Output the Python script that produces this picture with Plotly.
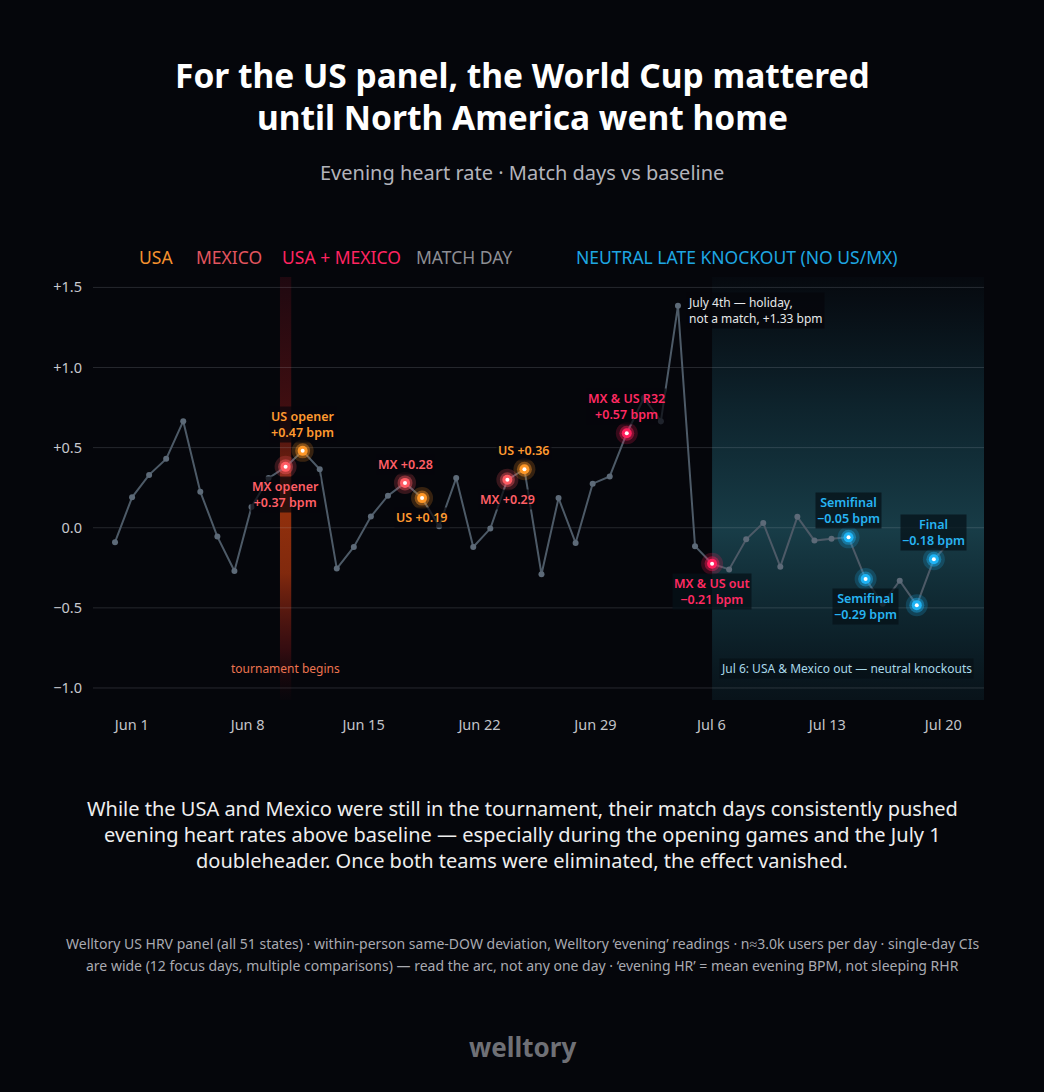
import plotly.graph_objects as go
import pandas as pd

# ---------------- data ----------------
dates = pd.date_range("2026-06-01", "2026-07-20", freq="D")
values = [-0.09, 0.19, 0.33, 0.43, 0.665, 0.225, -0.055, -0.27, 0.13, 0.31,
          0.38, 0.48, 0.365, -0.255, -0.12, 0.07, 0.20, 0.28, 0.185, 0.01,
          0.31, -0.12, -0.005, 0.30, 0.365, -0.29, 0.185, -0.095, 0.275, 0.32,
          0.59, 0.81, 0.665, 1.385, -0.115, -0.225, -0.26, -0.072, 0.03, -0.243,
          0.068, -0.08, -0.068, -0.06, -0.32, -0.475, -0.33, -0.483, -0.197, -0.082]

us_days = ["2026-06-12", "2026-06-19", "2026-06-25"]
mx_days = ["2026-06-11", "2026-06-18", "2026-06-24"]
both_days = ["2026-07-01", "2026-07-06"]
neutral_days = ["2026-07-14", "2026-07-15", "2026-07-18", "2026-07-19"]

tournament_start = "2026-06-11"
exit_day = "2026-07-06"
holiday = "2026-07-04"

x_tick_labels = ["Jun 1", "Jun 8", "Jun 15", "Jun 22", "Jun 29", "Jul 6", "Jul 13", "Jul 20"]
y_tick_vals = [-1.0, -0.5, 0.0, 0.5, 1.0, 1.5]
y_tick_text = ["\u22121.0", "\u22120.5", "0.0", "+0.5", "+1.0", "+1.5"]

# event labels: (date, text, kind, above?)
event_labels = [
    ("2026-06-12", "US opener<br>+0.47 bpm", "us", True),
    ("2026-06-11", "MX opener<br>+0.37 bpm", "mx", False),
    ("2026-06-18", "MX +0.28", "mx", True),
    ("2026-06-19", "US +0.19", "us", False),
    ("2026-06-25", "US +0.36", "us", True),
    ("2026-06-24", "MX +0.29", "mx", False),
    ("2026-07-01", "MX &amp; US R32<br>+0.57 bpm", "both", True),
    ("2026-07-06", "MX &amp; US out<br>\u22120.21 bpm", "both", False),
    ("2026-07-14", "Semifinal<br>\u22120.05 bpm", "neutral", True),
    ("2026-07-15", "Semifinal<br>\u22120.29 bpm", "neutral", False),
    ("2026-07-19", "Final<br>\u22120.18 bpm", "neutral", True),
]

# ---------------- styling ----------------
BG = "#05060b"
FONT = "Noto Sans"
COL = {"us": "#ff9828", "mx": "#ff5b63", "both": "#ff1f5c", "neutral": "#1fb4f5"}
LABEL_COL = {"us": "#ff9a30", "mx": "#ff5f66", "both": "#ff2a62", "neutral": "#27b4f2"}

W, H = 1044, 1092
ML, MR, MT, MB = 93, 60, 277, 392
d0 = pd.Timestamp("2026-06-01")
day = pd.Timedelta(days=1)
x_range = [d0 - 1.29 * day, d0 + 50.94 * day]
y_range = [-1.075, 1.565]
# tick positions as placed in the reference
x_tick_vals = [d0 + (0.98 + 6.796 * k) * day for k in range(len(x_tick_labels))]

val = dict(zip(dates.strftime("%Y-%m-%d"), values))

fig = go.Figure()

# tournament-begins band
ts = pd.Timestamp(tournament_start)
fig.add_trace(go.Scatter(
    x=[ts - 0.33 * day, ts + 0.33 * day, ts + 0.33 * day, ts - 0.33 * day, ts - 0.33 * day],
    y=[y_range[1], y_range[1], y_range[0], y_range[0], y_range[1]],
    mode="lines", line=dict(width=0), fill="toself",
    fillgradient=dict(type="vertical", start=y_range[1], stop=y_range[0],
                      colorscale=[[0, "rgba(110,16,30,0.25)"], [0.3, "rgba(120,22,22,0.5)"],
                                  [0.55, "rgba(170,55,12,0.85)"], [0.7, "rgba(160,50,14,0.8)"],
                                  [0.88, "rgba(110,20,22,0.45)"], [1, "rgba(60,10,16,0.05)"]]),
    hoverinfo="skip", showlegend=False))

# neutral knockout region
ed = pd.Timestamp(exit_day)
fig.add_trace(go.Scatter(
    x=[ed, x_range[1], x_range[1], ed, ed],
    y=[y_range[1], y_range[1], y_range[0], y_range[0], y_range[1]],
    mode="lines", line=dict(width=0), fill="toself",
    fillgradient=dict(type="vertical", start=y_range[1], stop=y_range[0],
                      colorscale=[[0, "rgba(20,60,75,0.06)"], [0.3, "rgba(24,70,84,0.45)"],
                                  [0.6, "rgba(28,72,84,0.82)"], [0.85, "rgba(20,60,72,0.5)"],
                                  [1, "rgba(16,48,60,0.3)"]]),
    hoverinfo="skip", showlegend=False))

# gridlines (drawn above the shaded regions)
gx, gy = [], []
for v in y_tick_vals:
    gx += [x_range[0], x_range[1], None]
    gy += [v, v, None]
fig.add_trace(go.Scatter(x=gx, y=gy, mode="lines",
                         line=dict(color="rgba(200,210,220,0.17)", width=1),
                         hoverinfo="skip", showlegend=False))

# main series
fig.add_trace(go.Scatter(x=dates, y=values, mode="lines+markers",
                         line=dict(color="#4d5a67", width=2),
                         marker=dict(size=6, color="#5d6a78"),
                         hoverinfo="skip", showlegend=False))

# highlighted days
for kind, days in [("us", us_days), ("mx", mx_days), ("both", both_days), ("neutral", neutral_days)]:
    xs = pd.to_datetime(days)
    ys = [val[d] for d in days]
    c = COL[kind]
    fig.add_trace(go.Scatter(x=xs, y=ys, mode="markers",
                             marker=dict(size=22, color=c, opacity=0.2),
                             hoverinfo="skip", showlegend=False))
    fig.add_trace(go.Scatter(x=xs, y=ys, mode="markers",
                             marker=dict(size=15, color=c, opacity=0.4),
                             hoverinfo="skip", showlegend=False))
    fig.add_trace(go.Scatter(x=xs, y=ys, mode="markers",
                             marker=dict(size=10, color=c),
                             hoverinfo="skip", showlegend=False))
    fig.add_trace(go.Scatter(x=xs, y=ys, mode="markers",
                             marker=dict(size=4, color="white"),
                             hoverinfo="skip", showlegend=False))

ann = []

for d, text, kind, above in event_labels:
    in_teal = pd.Timestamp(d) >= ed
    ann.append(dict(x=pd.Timestamp(d), y=val[d], xref="x", yref="y", text=text,
                    showarrow=False, align="center",
                    yanchor="bottom" if above else "top", yshift=8 if above else -9,
                    font=dict(family=FONT, size=12.5, color=LABEL_COL[kind], weight=600),
                    bgcolor="rgba(6,18,24,0.75)" if in_teal else "rgba(5,6,11,0.7)",
                    borderpad=1))

ann.append(dict(x=pd.Timestamp(holiday), y=val[holiday], xref="x", yref="y",
                text="July 4th \u2014 holiday,<br>not a match, +1.33 bpm", showarrow=False,
                align="left", xanchor="left", yanchor="top", xshift=8, yshift=14,
                font=dict(family=FONT, size=12, color="#e6e8ea"),
                bgcolor="rgba(5,6,11,0.75)", borderpad=1))

ann.append(dict(x=ts, y=-0.88, xref="x", yref="y", text="tournament begins",
                showarrow=False, font=dict(family=FONT, size=12, color="#ec7450")))
ann.append(dict(x=x_range[1], y=-0.88, xref="x", yref="y", xanchor="right", xshift=-10,
                text="Jul 6: USA &amp; Mexico out \u2014 neutral knockouts",
                showarrow=False, font=dict(family=FONT, size=12, color="#a9d9ea"),
                bgcolor="rgba(6,16,22,0.7)", borderpad=1))

pw, ph = W - ML - MR, H - MT - MB


def px(x):
    return (x - ML) / pw


def py(y):
    return (H - MB - y) / ph


def text_at(x, y, text, size, color, weight=400, xanchor="center"):
    ann.append(dict(x=px(x), y=py(y), xref="paper", yref="paper", text=text,
                    showarrow=False, xanchor=xanchor, yanchor="middle",
                    font=dict(family=FONT, size=size, color=color, weight=weight)))


text_at(522, 75, "For the US panel, the World Cup mattered", 33.5, "#ffffff", 700)
text_at(522, 117, "until North America went home", 33.5, "#ffffff", 700)
text_at(522, 172, "Evening heart rate \u00b7 Match days vs baseline", 20, "#b3b4bb")

legend = [(137, "USA", "#f5922f"), (194, "MEXICO", "#e2555f"), (280, "USA + MEXICO", "#ff2461"),
          (414, "MATCH DAY", "#8d8e94"), (574, "NEUTRAL LATE KNOCKOUT (NO US/MX)", "#1ea6e2")]
for x0, t, c in legend:
    text_at(x0, 257, t, 17.5, c, 400, "left")

body = ["While the USA and Mexico were still in the tournament, their match days consistently pushed",
        "evening heart rates above baseline \u2014 especially during the opening games and the July 1",
        "doubleheader. Once both teams were eliminated, the effect vanished."]
for i, line in enumerate(body):
    text_at(522, 808 + 26 * i, line, 20, "#eeeeee")

foot = ["Welltory US HRV panel (all 51 states) \u00b7 within-person same-DOW deviation, Welltory \u2018evening\u2019 readings \u00b7 n\u22483.0k users per day \u00b7 single-day CIs",
        "are wide (12 focus days, multiple comparisons) \u2014 read the arc, not any one day \u00b7 \u2018evening HR\u2019 = mean evening BPM, not sleeping RHR"]
for i, line in enumerate(foot):
    text_at(522, 943 + 22 * i, line, 14, "#a9aab1")

text_at(522, 1047, "welltory", 26, "#6f7076", 700)

fig.update_layout(
    width=W, height=H, margin=dict(l=ML, r=MR, t=MT, b=MB),
    paper_bgcolor=BG, plot_bgcolor=BG,
    showlegend=False, annotations=ann,
    font=dict(family=FONT, color="#c8c9ce"),
    xaxis=dict(type="date", range=x_range, tickvals=x_tick_vals, ticktext=x_tick_labels,
               showgrid=False, zeroline=False, showline=False, ticks="",
               ticklabelstandoff=14, tickfont=dict(family=FONT, size=14.5, color="#c3c4c9"),
               fixedrange=True),
    yaxis=dict(range=y_range, tickvals=y_tick_vals, ticktext=y_tick_text,
               showgrid=False, zeroline=False, showline=False, ticks="",
               ticklabelstandoff=10, tickfont=dict(family=FONT, size=14.5, color="#c8c9ce"),
               fixedrange=True),
)

fig.write_html("out.html")
